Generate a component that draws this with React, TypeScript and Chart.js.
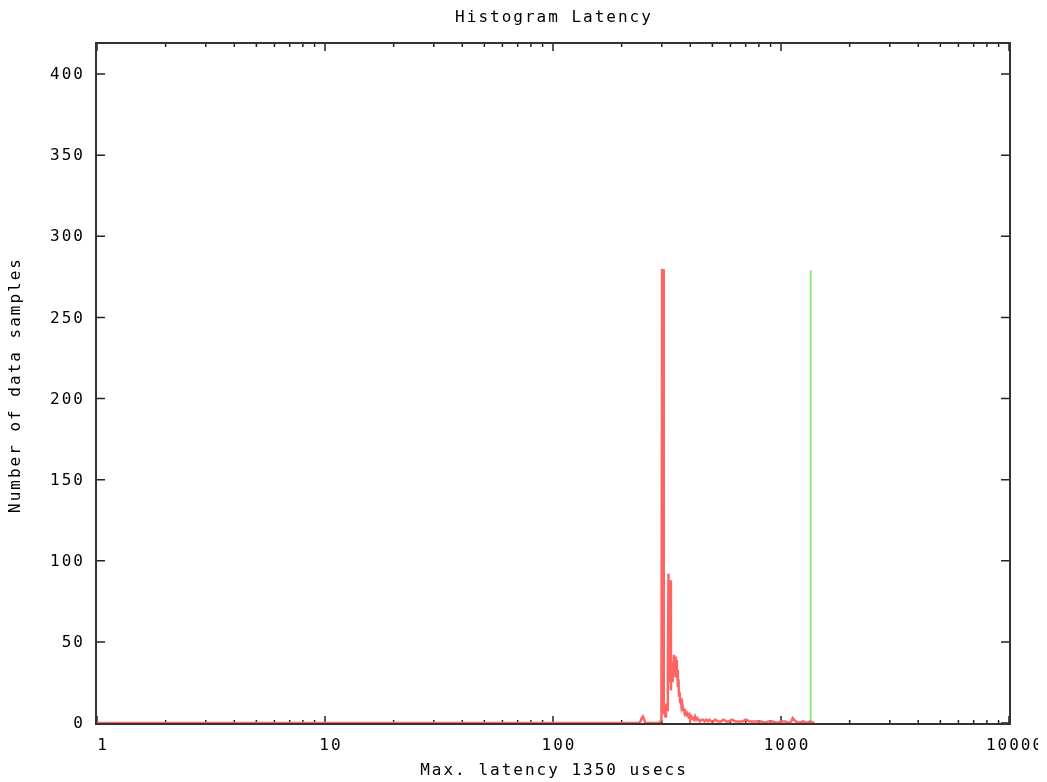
import React, { useEffect, useRef } from "react";
import { Chart, registerables } from "chart.js";

Chart.register(...registerables);

const chartTitle = "Histogram Latency";
const xAxisTitle = "Max. latency 1350 usecs";
const yAxisTitle = "Number of data samples";

const xTickValues = [1, 10, 100, 1000, 10000];
const xTickLabels = ["1", "10", "100", "1000", "10000"];
const yTickValues = [0, 50, 100, 150, 200, 250, 300, 350, 400];
const yTickLabels = ["0", "50", "100", "150", "200", "250", "300", "350", "400"];
const yAxisMax = 418.5;

// histogram (latency in usecs -> number of samples)
const latencyUsecs = [
  1, 238, 242, 245, 248, 251, 254, 293, 296, 299, 301, 305, 306, 307, 309, 311,
  313, 315, 317, 319, 321, 323, 325, 327, 329, 331, 333, 335, 337, 339, 341,
  343, 345, 347, 349, 351, 353, 355, 357, 359, 361, 363, 366, 369, 372,
  375, 378, 381, 385, 389, 393, 397, 401, 405, 410, 415, 420, 425, 430, 440,
  450, 455, 462, 470, 478, 485, 495, 505, 515, 530, 545, 560, 575, 590, 610,
  630, 650, 680, 700, 730, 760, 790, 820, 850, 880, 920, 960, 1000, 1040,
  1080, 1110, 1125, 1160, 1200, 1250, 1300, 1340, 1400,
];
const sampleCounts = [
  0, 0, 1, 3, 4, 2, 0, 0, 1, 2, 279, 279, 10, 6, 9, 4,
  8, 12, 8, 30, 92, 40, 25, 88, 20, 35, 26, 38, 30, 42, 34,
  41, 28, 39, 30, 33, 22, 27, 17, 19, 13, 15, 10, 12, 8,
  9, 6, 7, 5, 6, 4, 5, 2, 4, 3, 2, 4, 2, 3, 1, 2,
  2, 1, 2, 1, 2, 1, 1, 2, 1, 1, 2, 1, 1, 2, 1,
  1, 1, 2, 1, 1, 1, 1, 0, 1, 1, 0, 1, 1, 0,
  1, 3, 1, 0, 1, 0, 1, 0, 0,
];

// maximum latency marker
const maxLatencyX = [1350, 1350];
const maxLatencyY = [0, 279];

const FONT = '16px "DejaVu Sans Mono", monospace';

function minorTicks(): number[] {
  const out: number[] = [];
  for (let d = 1; d < 10000; d *= 10) {
    for (let m = 2; m <= 9; m++) out.push(m * d);
  }
  return out;
}

const gnuFrame = {
  id: "gnuFrame",
  beforeDatasetsDraw(chart: any) {
    const { ctx, chartArea: a, scales } = chart;
    const x = scales.x;
    const y = scales.y;
    const top = a.top - 1;
    const bottom = a.bottom + 1;
    const left = a.left - 1;
    const right = a.right + 1;
    ctx.save();
    ctx.strokeStyle = "#222";
    ctx.lineWidth = 1.5;
    ctx.beginPath();
    for (const v of xTickValues) {
      const px = x.getPixelForValue(v);
      ctx.moveTo(px, bottom);
      ctx.lineTo(px, bottom - 8);
      ctx.moveTo(px, top);
      ctx.lineTo(px, top + 8);
    }
    for (const v of minorTicks()) {
      const px = x.getPixelForValue(v);
      ctx.moveTo(px, bottom);
      ctx.lineTo(px, bottom - 4);
      ctx.moveTo(px, top);
      ctx.lineTo(px, top + 4);
    }
    for (const v of yTickValues) {
      const py = y.getPixelForValue(v);
      ctx.moveTo(left, py);
      ctx.lineTo(left + 9, py);
      ctx.moveTo(right, py);
      ctx.lineTo(right - 9, py);
    }
    ctx.stroke();
    ctx.restore();
  },
  afterDatasetsDraw(chart: any) {
    const { ctx, chartArea: a, scales } = chart;
    const x = scales.x;
    const y = scales.y;
    const top = a.top - 1;
    const bottom = a.bottom + 1;
    const left = a.left - 1;
    const right = a.right + 1;
    ctx.save();
    ctx.strokeStyle = "#333";
    ctx.lineWidth = 2;
    ctx.strokeRect(left, top, right - left, bottom - top);
    ctx.restore();

    ctx.save();
    ctx.beginPath();
    ctx.rect(0, 0, 1038, chart.height);
    ctx.clip();
    ctx.fillStyle = "#000";
    ctx.font = FONT;
    (ctx as any).letterSpacing = "2px";

    // title
    ctx.textAlign = "center";
    ctx.textBaseline = "alphabetic";
    ctx.fillText(chartTitle, (left + right) / 2 + 1, 22);

    // y tick labels
    ctx.textAlign = "right";
    ctx.textBaseline = "middle";
    yTickValues.forEach((v, i) => {
      ctx.fillText(yTickLabels[i], 85, y.getPixelForValue(v) + 1);
    });

    // x tick labels
    ctx.textAlign = "center";
    ctx.textBaseline = "top";
    xTickValues.forEach((v, i) => {
      ctx.fillText(xTickLabels[i], x.getPixelForValue(v) + 6, 738);
    });

    // x axis title
    ctx.textBaseline = "alphabetic";
    ctx.fillText(xAxisTitle, (left + right) / 2 + 1, 775);

    // y axis title
    ctx.translate(16, 385);
    ctx.rotate(-Math.PI / 2);
    ctx.textBaseline = "middle";
    ctx.fillText(yAxisTitle, 0, 0);
    ctx.restore();
  },
};

export default function App() {
  const ref = useRef<HTMLCanvasElement | null>(null);

  useEffect(() => {
    if (!ref.current) return;
    const chart = new Chart(ref.current, {
      type: "scatter",
      data: {
        datasets: [
          {
            label: "histogram",
            data: latencyUsecs.map((v, i) => ({ x: v, y: sampleCounts[i] })),
            showLine: true,
            borderColor: "rgb(255,100,100)",
            backgroundColor: "rgb(255,100,100)",
            borderWidth: 2.5,
            pointRadius: 0,
            tension: 0,
          },
          {
            label: "max latency",
            data: maxLatencyX.map((v, i) => ({ x: v, y: maxLatencyY[i] })),
            showLine: true,
            borderColor: "rgb(125,238,125)",
            backgroundColor: "rgb(125,238,125)",
            borderWidth: 2,
            pointRadius: 0,
          },
        ],
      },
      options: {
        animation: false,
        responsive: false,
        devicePixelRatio: 1,
        layout: { padding: { left: 97, right: 38, top: 44, bottom: 59 } },
        plugins: {
          legend: { display: false },
          title: { display: false },
          tooltip: { enabled: false },
        },
        scales: {
          x: { type: "logarithmic", min: 1, max: 10000, display: false },
          y: { type: "linear", min: 0, max: yAxisMax, display: false },
        },
      },
      plugins: [gnuFrame],
    });
    return () => chart.destroy();
  }, []);

  return (
    <div style={{ position: "absolute", left: 0, top: 0, width: 1047, height: 782, background: "#fff" }}>
      <canvas ref={ref} width={1047} height={782} />
    </div>
  );
}
